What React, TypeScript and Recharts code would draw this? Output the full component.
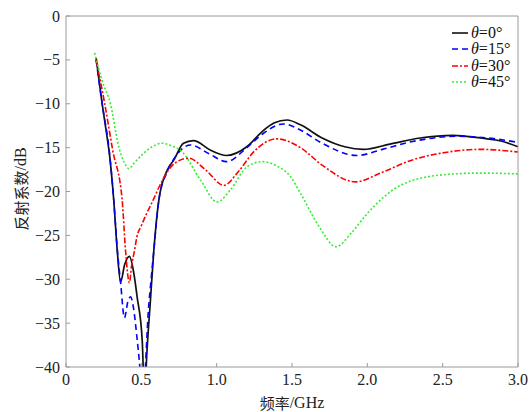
import { LineChart, Line, XAxis, YAxis, CartesianGrid } from "recharts";

// frequency (GHz) / reflection coefficient (dB)
const freq0 = [0.2, 0.24, 0.265, 0.29, 0.317, 0.34, 0.362, 0.39, 0.421, 0.45, 0.472, 0.506, 0.522, 0.535, 0.56, 0.583, 0.616, 0.671, 0.716, 0.78, 0.846, 0.96, 1.065, 1.2, 1.3, 1.38, 1.468, 1.556, 1.7, 1.85, 1.974, 2.15, 2.35, 2.57, 2.75, 2.9, 3.0];
const refl0 = [-4.8, -10, -12.9, -16, -21, -26.7, -30.3, -28.3, -27.4, -29.3, -32, -37, -44, -39, -32.5, -26.7, -21, -17.6, -16.4, -14.5, -14.2, -15.3, -15.9, -14.9, -13.2, -12.2, -11.85, -12.4, -13.9, -14.9, -15.2, -14.6, -13.9, -13.6, -13.9, -14.3, -14.9];

const freq15 = [0.2, 0.24, 0.29, 0.317, 0.34, 0.362, 0.388, 0.41, 0.428, 0.45, 0.47, 0.49, 0.51, 0.527, 0.545, 0.565, 0.583, 0.616, 0.67, 0.72, 0.826, 0.95, 1.065, 1.2, 1.3, 1.443, 1.556, 1.7, 1.93, 2.1, 2.3, 2.6, 2.8, 3.0];
const refl15 = [-5, -10, -15.8, -21, -26.5, -30.3, -34.4, -32.6, -32, -33.5, -36.5, -40, -45, -40, -34, -30, -26.7, -21, -17.8, -16.2, -14.7, -15.7, -16.6, -15.0, -13.5, -12.3, -13.0, -14.5, -15.9, -15.2, -14.3, -13.7, -13.9, -14.4];

const freq30 = [0.2, 0.257, 0.31, 0.373, 0.395, 0.421, 0.435, 0.455, 0.47, 0.5, 0.53, 0.572, 0.66, 0.72, 0.815, 0.93, 1.047, 1.15, 1.25, 1.397, 1.556, 1.7, 1.92, 2.1, 2.3, 2.5, 2.75, 3.0];
const refl30 = [-5, -10, -15.3, -21, -26.7, -30.4, -28.5, -26.7, -25.2, -23.9, -22.7, -21.2, -18.1, -16.8, -16.2, -17.6, -19.3, -17.6, -15.4, -14.0, -15.0, -17.0, -18.9, -17.8, -16.4, -15.6, -15.2, -15.5];

const freq45 = [0.19, 0.24, 0.295, 0.35, 0.39, 0.417, 0.45, 0.5, 0.572, 0.638, 0.7, 0.76, 0.893, 1.003, 1.092, 1.2, 1.302, 1.4, 1.49, 1.556, 1.68, 1.793, 1.89, 2.0, 2.22, 2.5, 2.75, 3.0];
const refl45 = [-4.2, -7.4, -10, -14.9, -16.8, -17.4, -16.8, -15.9, -14.9, -14.5, -14.8, -15.3, -18.7, -21.2, -19.8, -17.2, -16.6, -17.1, -18.3, -20.2, -24.0, -26.3, -24.8, -22.5, -19.3, -18.1, -17.9, -18.0];

const xTicks = [0, 0.5, 1.0, 1.5, 2.0, 2.5, 3.0];
const yTicks = [0, -5, -10, -15, -20, -25, -30, -35, -40];

const series = [
  { name: "0°", freq: freq0, refl: refl0, color: "#111111", dash: undefined },
  { name: "15°", freq: freq15, refl: refl15, color: "#0000ff", dash: "6 4" },
  { name: "30°", freq: freq30, refl: refl30, color: "#ff0000", dash: "6 2 2 2" },
  { name: "45°", freq: freq45, refl: refl45, color: "#33ee33", dash: "2 2" },
];

const serif = "'Times New Roman', 'Liberation Serif', 'DejaVu Serif', serif";
const cjk = "'Noto Sans CJK SC', sans-serif";
const axisColor = "#9a9a9a";
const textColor = "#222";

const fmtX = (v: number) => (v === 0 ? "0" : v.toFixed(1));
const fmtY = (v: number) => String(v).replace("-", "\u2212");

const XTick = (props: any) => (
  <text x={props.x} y={props.y} dy="0.75em" textAnchor="middle" fill={textColor} fontSize={16} style={{ fontFamily: serif }}>
    {fmtX(props.payload.value)}
  </text>
);

const YTick = (props: any) => (
  <text x={props.x} y={props.y} dy="0.35em" textAnchor="end" fill={textColor} fontSize={16} style={{ fontFamily: serif }}>
    {fmtY(props.payload.value)}
  </text>
);

const XLabel = () => (
  <text x={292} y={402} textAnchor="middle" dominantBaseline="central" fill={textColor} fontSize={15}>
    <tspan style={{ fontFamily: cjk }}>频率</tspan>
    <tspan style={{ fontFamily: serif }} fontSize={16}>/GHz</tspan>
  </text>
);

const YLabel = () => (
  <text
    x={20}
    y={189}
    transform="rotate(-90 20 189)"
    textAnchor="middle"
    dominantBaseline="central"
    fill={textColor}
    fontSize={15}
  >
    <tspan style={{ fontFamily: cjk }}>反射系数</tspan>
    <tspan style={{ fontFamily: serif }} fontSize={16}>/dB</tspan>
  </text>
);

function LegendBox() {
  return (
    <div
      style={{
        position: "absolute",
        left: 451,
        top: 25,
        fontFamily: serif,
        fontSize: 16,
        lineHeight: "16.3px",
        color: "#111",
      }}
    >
      {series.map((s) => (
        <div key={s.name} style={{ display: "flex", alignItems: "center", whiteSpace: "nowrap" }}>
          <svg width={18} height={10} style={{ marginRight: 2 }}>
            <line x1={1} y1={5} x2={17} y2={5} stroke={s.color} strokeWidth={1.6} strokeDasharray={s.dash} />
          </svg>
          <span>
            <i>θ</i>={s.name}
          </span>
        </div>
      ))}
    </div>
  );
}

export default function App() {
  return (
    <div style={{ position: "absolute", left: 0, top: 0, width: 531, height: 412, background: "#fff" }}>
      <LineChart width={531} height={412} margin={{ top: 15, right: 12, left: 0, bottom: 0 }}>
        <CartesianGrid stroke="#e8e8e8" horizontalValues={yTicks} verticalValues={xTicks} />
        <XAxis
          xAxisId="b"
          dataKey="f"
          type="number"
          domain={[0, 3]}
          ticks={xTicks}
          height={45}
          tickSize={-4}
          tickMargin={10}
          stroke={axisColor}
          tick={XTick}
          label={<XLabel />}
        />
        <XAxis
          xAxisId="t"
          orientation="top"
          dataKey="f"
          type="number"
          domain={[0, 3]}
          ticks={xTicks}
          height={1}
          tickSize={-4}
          tick={false}
          stroke={axisColor}
        />
        <YAxis
          yAxisId="l"
          type="number"
          domain={[-40, 0]}
          ticks={yTicks}
          allowDataOverflow
          width={66}
          tickSize={-4}
          tickMargin={10}
          stroke={axisColor}
          tick={YTick}
          label={<YLabel />}
        />
        <YAxis
          yAxisId="r"
          orientation="right"
          type="number"
          domain={[-40, 0]}
          ticks={yTicks}
          allowDataOverflow
          width={1}
          tickSize={-4}
          tick={false}
          stroke={axisColor}
        />
        {series.map((s) => (
          <Line
            key={s.name}
            xAxisId="b"
            yAxisId="l"
            name={s.name}
            data={s.freq.map((f, i) => ({ f, v: s.refl[i] }))}
            dataKey="v"
            type="monotone"
            stroke={s.color}
            strokeWidth={s.name === "0°" ? 1.7 : 1.6}
            strokeDasharray={s.dash}
            dot={false}
            isAnimationActive={false}
          />
        ))}
      </LineChart>
      <LegendBox />
    </div>
  );
}
